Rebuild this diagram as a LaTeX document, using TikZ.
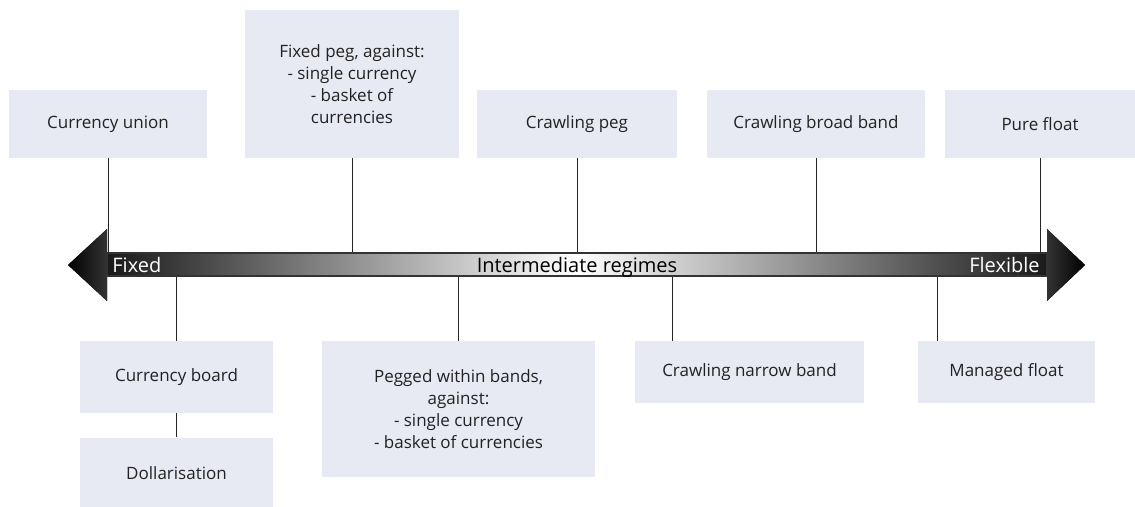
\documentclass[tikz,border=0pt]{standalone}
\usepackage{fontspec}
\setmainfont{Open Sans}
\usepackage{tikz}
\usetikzlibrary{positioning}
\definecolor{boxfill}{HTML}{E8EAF3}
\definecolor{boxtext}{HTML}{222222}
\tikzset{
  regime/.style={fill=boxfill, text=boxtext, inner sep=2pt, align=center, font=\fontsize{8.5}{11}\selectfont},
  stem/.style={draw=black!85, line width=0.5pt},
  barlabel/.style={inner sep=0pt, font=\fontsize{10}{12}\selectfont}
}

\begin{document}
\begin{tikzpicture}[x=0.5pt,y=-0.5pt]
            \useasboundingbox (0,0) rectangle (1135,507);

            % Axis bar with arrow heads
            \fill[left color=black, right color=black!80] (107,229) -- (68,265) -- (107,301) -- cycle;
            \fill[left color=black!80, right color=black] (1047,229) -- (1085,265) -- (1047,301) -- cycle;
            \node[draw=black!80, line width=0.6pt, inner sep=0pt, minimum width=470pt, minimum height=11.5pt,
                  left color=black!90, right color=black!90, middle color=white] (axis) at (577,264.5) {};
            \node[barlabel, white, anchor=base west] (fixedlbl) at (112,273) {Fixed};
            \node[barlabel, white, anchor=base east] (flexlbl) at (1040,273) {Flexible};
            \node[barlabel, anchor=base] (midlbl) at (577,273) {Intermediate regimes};

            % Regimes above the axis
            \node[regime, minimum width=99pt, minimum height=34pt] (union) at (108,124) {Currency union};
            \node[regime, minimum width=107pt, minimum height=74pt] (fixpeg) at (352,84) {Fixed peg, against:\\- single currency\\- basket of\\currencies};
            \node[regime, minimum width=100pt, minimum height=34pt] (crawlpeg) at (577,124) {Crawling peg};
            \node[regime, minimum width=109pt, minimum height=34pt] (broad) at (816,124) {Crawling broad band};
            \node[regime, minimum width=95pt, minimum height=34pt] (pure) at (1040,124) {Pure float};

            % Regimes below the axis
            \node[regime, minimum width=96.5pt, minimum height=36pt] (cboard) at (176.5,377) {Currency board};
            \node[regime, minimum width=96.5pt, minimum height=35pt, below=12pt of cboard] (dollar) {Dollarisation};
            \node[regime, minimum width=136.5pt, minimum height=68pt] (pegband) at (458.5,409) {Pegged within bands,\\against:\\- single currency\\- basket of currencies};
            \node[regime, minimum width=114.5pt, minimum height=31pt] (narrow) at (749.5,372) {Crawling narrow band};
            \node[regime, minimum width=88.5pt, minimum height=31pt] (managed) at (1006.5,372) {Managed float};

            % Stems to the axis
            \foreach \n in {union, fixpeg, crawlpeg, broad, pure}
                \draw[stem] (\n.south) -- (\n.south |- axis.north);
            \foreach \n in {cboard, pegband}
                \draw[stem] (\n.north) -- (\n.north |- axis.south);
            \draw[stem] ([xshift=19pt]narrow.north west) -- ([xshift=19pt]narrow.north west |- axis.south);
            \draw[stem] ([xshift=10pt]managed.north west) -- ([xshift=10pt]managed.north west |- axis.south);
            \draw[stem] (cboard.south) -- (cboard.south |- dollar.north);
        \end{tikzpicture}
\end{document}
